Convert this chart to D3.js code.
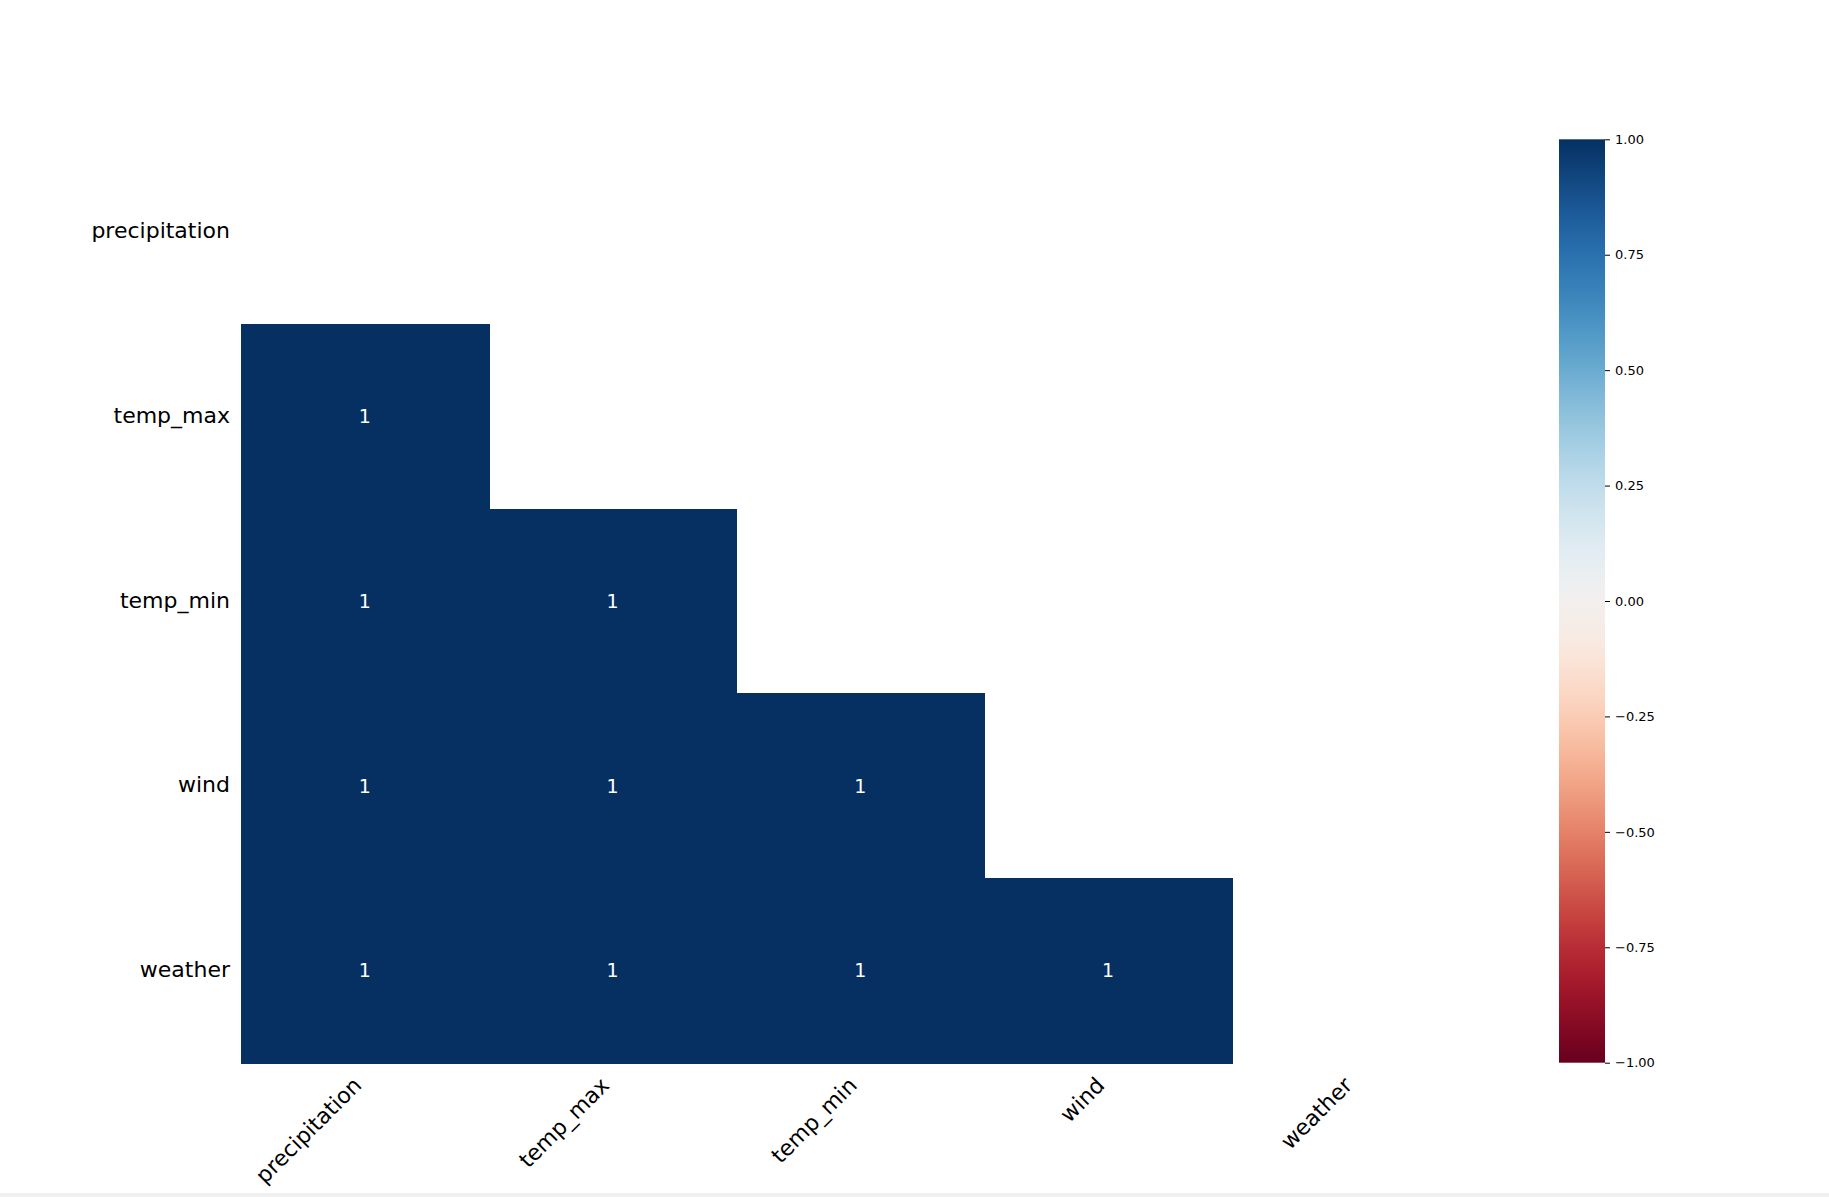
<html>
  <head>
    <meta charset="utf-8">
    <style>
      body { margin: 0; background: #fff; }
      text { font-family: "DejaVu Sans", sans-serif; }
      .row-label, .col-label { font-size: 22px; fill: #000; }
      .cell-text { font-size: 19px; fill: #fff; }
      .cbar .tick text { font-size: 13px; fill: #000; }
    </style>
  </head>
  <body>
    <div id="chart"></div>
    <script src="https://d3js.org/d3.v7.min.js"></script>
    <script>
      var columns = ["precipitation", "temp_max", "temp_min", "wind", "weather"];
      // nullity correlation, only the lower triangle is shown
      var corr = [
        [null, null, null, null, null],
        [1, null, null, null, null],
        [1, 1, null, null, null],
        [1, 1, 1, null, null],
        [1, 1, 1, 1, null]
      ];
      var cbarTicks = [-1, -0.75, -0.5, -0.25, 0, 0.25, 0.5, 0.75, 1];

      var width = 1829, height = 1197;
      var plotLeft = 241, plotTop = 139.3, cellW = 247.7, plotBottom = 1062.7;

      var svg = d3.select("#chart").append("svg")
        .attr("width", width)
        .attr("height", height);

      var x = d3.scaleBand().domain(columns).range([plotLeft, plotLeft + cellW * columns.length]);
      var y = d3.scaleBand().domain(columns).range([plotTop, plotBottom]);
      var color = d3.scaleSequential(d3.interpolateRdBu).domain([-1, 1]);

      var cells = [];
      corr.forEach(function(row, i) {
        row.forEach(function(v, j) {
          if (v !== null) cells.push({r: columns[i], c: columns[j], v: v});
        });
      });

      var g = svg.append("g");
      g.selectAll("rect.cell")
        .data(cells)
        .enter().append("rect")
        .attr("class", "cell")
        .attr("x", d => Math.round(x(d.c)))
        .attr("y", d => Math.round(y(d.r)))
        .attr("width", d => Math.round(x(d.c) + x.bandwidth()) - Math.round(x(d.c)) + 1)
        .attr("height", d => Math.round(y(d.r) + y.bandwidth()) - Math.round(y(d.r)) + 1)
        .attr("shape-rendering", "crispEdges")
        .attr("fill", d => color(d.v));

      g.selectAll("text.cell-text")
        .data(cells)
        .enter().append("text")
        .attr("class", "cell-text")
        .attr("x", d => x(d.c) + x.bandwidth() / 2)
        .attr("y", d => y(d.r) + y.bandwidth() / 2)
        .attr("dy", "0.36em")
        .attr("text-anchor", "middle")
        .text(d => d.v);

      // row labels
      svg.selectAll("text.row-label")
        .data(columns)
        .enter().append("text")
        .attr("class", "row-label")
        .attr("x", plotLeft - 11)
        .attr("y", d => y(d) + y.bandwidth() / 2 - 1)
        .attr("dy", "0.35em")
        .attr("text-anchor", "end")
        .text(d => d);

      // column labels, rotated
      svg.selectAll("text.col-label")
        .data(columns)
        .enter().append("text")
        .attr("class", "col-label")
        .attr("text-anchor", "end")
        .attr("transform", d => "translate(" + (x(d) + x.bandwidth() / 2 - 2) + "," + (plotBottom + 24) + ") rotate(-45)")
        .text(d => d);

      // colorbar
      var cbX = 1559, cbW = 46;
      var cy = d3.scaleLinear().domain([-1, 1]).range([plotBottom, plotTop]);
      var defs = svg.append("defs");
      var grad = defs.append("linearGradient")
        .attr("id", "cbgrad")
        .attr("x1", 0).attr("y1", 1).attr("x2", 0).attr("y2", 0);
      d3.range(0, 1.0001, 0.02).forEach(function(t) {
        grad.append("stop")
          .attr("offset", t)
          .attr("stop-color", color(-1 + 2 * t));
      });
      svg.append("rect")
        .attr("x", cbX)
        .attr("y", plotTop)
        .attr("width", cbW)
        .attr("height", plotBottom - plotTop)
        .attr("fill", "url(#cbgrad)");

      svg.append("g")
        .attr("class", "cbar")
        .attr("transform", "translate(" + (cbX + cbW) + ",0)")
        .call(d3.axisRight(cy).tickValues(cbarTicks).tickFormat(d3.format(".2f")).tickSize(5).tickPadding(5))
        .call(a => a.select(".domain").remove());

      // thin grey strip at the very bottom of the page
      svg.append("rect")
        .attr("x", 0).attr("y", 1193)
        .attr("width", width).attr("height", 4)
        .attr("fill", "#f0f0f0");
    </script>
  </body>
</html>
